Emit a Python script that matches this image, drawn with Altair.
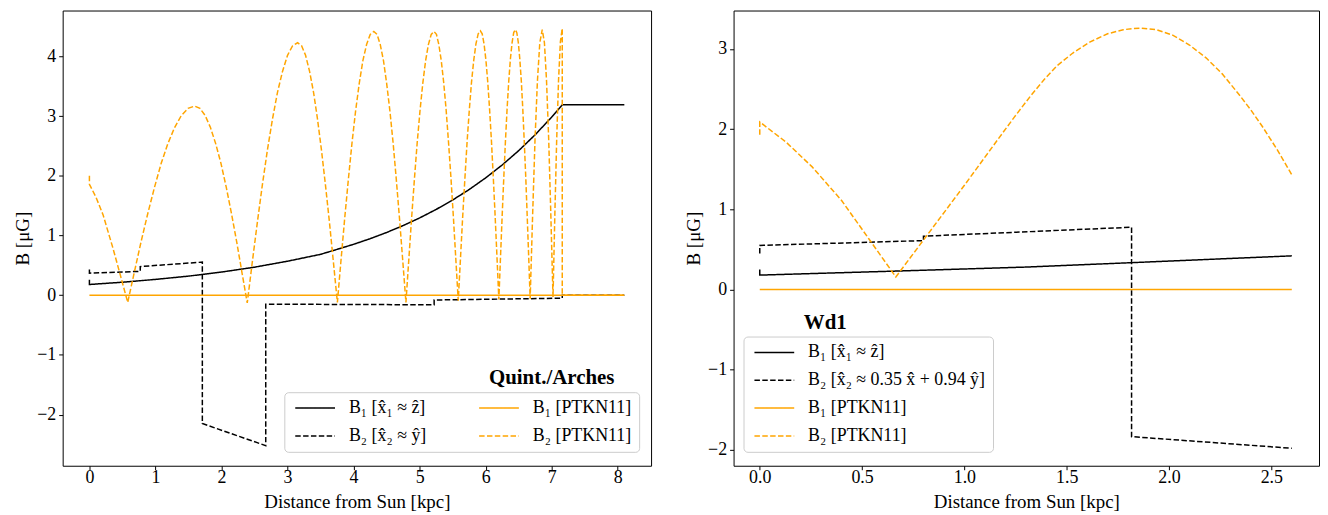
import altair as alt
import pandas as pd

FONT = "Liberation Serif"
BLACK = "#000000"
ORANGE = "#ffa500"

# ---------------- Left panel: Quint./Arches ----------------
L_B1_x = [0, 0, 0.5, 1.0, 1.5, 2.0, 2.5, 3.0, 3.5, 3.755, 4.0, 4.25, 4.5, 4.75, 5.0, 5.25,
          5.5, 5.75, 6.0, 6.25, 6.5, 6.75, 7.0, 7.16, 8.1]
L_B1_y = [0.26, 0.18, 0.218, 0.265, 0.32, 0.388, 0.47, 0.57, 0.685, 0.77, 0.853, 0.947, 1.051,
          1.167, 1.295, 1.437, 1.595, 1.771, 1.966, 2.182, 2.422, 2.689, 2.985, 3.19, 3.19]

L_B2_x = [0, 0, 0.77, 0.77, 1.71, 1.71, 2.67, 2.67, 5.22, 5.22, 7.16, 7.16, 8.1]
L_B2_y = [0.43, 0.37, 0.40, 0.48, 0.555, -2.15, -2.52, -0.15, -0.16, -0.08, -0.05, 0.0, 0.0]

L_P1_x = [0, 8.1]
L_P1_y = [0.0, 0.0]

L_P2_x = [0, 0, 0.1, 0.206, 0.356, 0.47, 0.58,
          0.681, 0.783, 0.884, 0.986, 1.087, 1.188, 1.290, 1.391, 1.493, 1.594,
          1.674, 1.753, 1.833, 1.912, 1.992, 2.072, 2.151, 2.231, 2.310, 2.39,
          2.466, 2.543, 2.619, 2.695, 2.772, 2.848, 2.924, 3.000, 3.077, 3.153,
          3.213, 3.273, 3.334, 3.394, 3.454, 3.514, 3.574, 3.635, 3.695, 3.755,
          3.810, 3.865, 3.921, 3.976, 4.031, 4.086, 4.141, 4.197, 4.252, 4.307,
          4.356, 4.404, 4.453, 4.501, 4.550, 4.599, 4.647, 4.696, 4.744, 4.793,
          4.836, 4.878, 4.921, 4.963, 5.006, 5.048, 5.091, 5.133, 5.176, 5.218,
          5.255, 5.291, 5.328, 5.365, 5.402, 5.438, 5.475, 5.512, 5.548, 5.585,
          5.619, 5.652, 5.686, 5.719, 5.753, 5.786, 5.820, 5.853, 5.887, 5.920,
          5.948, 5.976, 6.004, 6.032, 6.060, 6.088, 6.116, 6.144, 6.172, 6.200,
          6.225, 6.250, 6.275, 6.300, 6.325, 6.350, 6.375, 6.400, 6.425, 6.450,
          6.472, 6.495, 6.517, 6.540, 6.562, 6.584, 6.607, 6.629, 6.652, 6.674,
          6.711, 6.747, 6.784, 6.820, 6.857,
          6.890, 6.922, 6.955, 6.987, 7.02,
          7.048, 7.076, 7.104, 7.132, 7.16,
          7.16, 8.1]
L_P2_y = [2.00, 1.86, 1.64, 1.35, 0.79, 0.33, -0.12,
          0.39, 0.90, 1.37, 1.81, 2.21, 2.54, 2.81, 3.01, 3.13, 3.17,
          3.13, 3.01, 2.81, 2.54, 2.21, 1.81, 1.37, 0.89, 0.38, -0.13,
          0.55, 1.22, 1.85, 2.43, 2.95, 3.40, 3.75, 4.02, 4.18, 4.23,
          4.18, 4.02, 3.75, 3.40, 2.95, 2.43, 1.85, 1.22, 0.55, -0.12,
          0.59, 1.28, 1.94, 2.55, 3.09, 3.55, 3.93, 4.20, 4.37, 4.42,
          4.37, 4.20, 3.93, 3.55, 3.09, 2.55, 1.94, 1.28, 0.59, -0.12,
          0.59, 1.28, 1.94, 2.55, 3.09, 3.55, 3.93, 4.20, 4.37, 4.42,
          4.37, 4.20, 3.93, 3.56, 3.10, 2.56, 1.96, 1.30, 0.61, -0.09,
          0.62, 1.31, 1.96, 2.57, 3.11, 3.57, 3.94, 4.21, 4.38, 4.43,
          4.38, 4.21, 3.94, 3.57, 3.11, 2.58, 1.97, 1.32, 0.63, -0.07,
          0.64, 1.33, 1.98, 2.59, 3.13, 3.59, 3.96, 4.23, 4.40, 4.45,
          4.40, 4.23, 3.96, 3.59, 3.13, 2.59, 1.99, 1.33, 0.64, -0.06,
          1.33, 2.59, 3.59, 4.23, 4.45,
          4.23, 3.59, 2.60, 1.35, -0.03,
          1.36, 2.62, 3.61, 4.25, 4.47,
          0.0, 0.0]

# ---------------- Right panel: Wd1 ----------------
R_B1_x = [0, 0, 0.665, 1.3, 1.817, 2.6]
R_B1_y = [0.25, 0.18, 0.23, 0.28, 0.335, 0.42]

R_B2_x = [0, 0, 0.80, 0.80, 1.817, 1.817, 2.6]
R_B2_y = [0.45, 0.55, 0.61, 0.665, 0.777, -1.835, -1.98]

R_P1_x = [0, 2.6]
R_P1_y = [0.0, 0.0]

R_P2_x = [0, 0, 0.128, 0.256, 0.4, 0.531, 0.665, 0.798, 1.0, 1.163, 1.244, 1.325, 1.39, 1.452,
          1.53, 1.615, 1.70, 1.776, 1.82, 1.865, 1.94, 2.02, 2.10, 2.181, 2.26, 2.343, 2.40,
          2.457, 2.53, 2.60]
R_P2_y = [1.93, 2.09, 1.84, 1.53, 1.11, 0.64, 0.157, 0.61, 1.30, 1.87, 2.15, 2.42, 2.62, 2.79,
          2.95, 3.09, 3.19, 3.24, 3.255, 3.26, 3.24, 3.17, 3.05, 2.89, 2.69, 2.43, 2.24,
          2.03, 1.74, 1.43]

# legend labels
LAB_B1 = "B\u2081 [x\u0302\u2081 \u2248 z\u0302]"
LAB_L_B2 = "B\u2082 [x\u0302\u2082 \u2248 \u0177]"
LAB_R_B2 = "B\u2082 [x\u0302\u2082 \u2248 0.35 x\u0302 + 0.94 \u0177]"
LAB_P1 = "B\u2081 [PTKN11]"
LAB_P2 = "B\u2082 [PTKN11]"

# annotations
L_ANN = ["Quint./Arches"]
L_ANN_X = [7.0]
L_ANN_Y = [-1.395]
R_ANN = ["Wd1"]
R_ANN_X = [0.32]
R_ANN_Y = [-0.413]

SOLID = [1, 0]
DASH = [5.5, 2.4]


def frame(series):
    rows = []
    for name, xs, ys in series:
        for i, (a, b) in enumerate(zip(xs, ys)):
            rows.append({"x": a, "y": b, "series": name, "idx": i})
    return pd.DataFrame(rows)


def panel(series, legend_domain, colors, dashes, xdom, ydom, xvals, xfmt,
          yvals, width, height, legend, ann, ann_x, ann_y):
    df = frame(series)
    xs = alt.Scale(domain=xdom, nice=False, zero=False)
    ys = alt.Scale(domain=ydom, nice=False, zero=False)
    xax = alt.Axis(values=xvals, format=xfmt, title="Distance from Sun [kpc]")
    yax = alt.Axis(values=yvals, format="d", title="B [\u03bcG]")
    base = alt.Chart(df).mark_line(strokeWidth=1.5).encode(
        x=alt.X("x:Q", scale=xs, axis=xax),
        y=alt.Y("y:Q", scale=ys, axis=yax),
        color=alt.Color("series:N", scale=alt.Scale(domain=legend_domain, range=colors), legend=legend),
        strokeDash=alt.StrokeDash("series:N", scale=alt.Scale(domain=legend_domain, range=dashes), legend=legend),
        order=alt.Order("idx:Q"),
    )
    layers = [base.transform_filter(alt.datum.series == s) for s in legend_domain]
    adf = pd.DataFrame({"x": ann_x, "y": ann_y, "t": ann})
    txt = alt.Chart(adf).mark_text(font=FONT, fontSize=21, fontWeight="bold", align="center",
                                   baseline="middle", color="black").encode(
        x=alt.X("x:Q", scale=xs, axis=xax),
        y=alt.Y("y:Q", scale=ys, axis=yax),
        text="t:N",
    )
    return alt.layer(*layers, txt).properties(width=width, height=height)


def mk_legend(lx, ly, cols, colpad):
    return alt.Legend(orient="none", legendX=lx, legendY=ly, columns=cols, title=None,
                      symbolType="M-4,0H4", symbolSize=100, symbolStrokeWidth=1.5,
                      symbolOffset=15,
                      labelFont=FONT, labelFontSize=18, labelColor="black", labelLimit=600,
                      labelOffset=25, columnPadding=colpad, rowPadding=10, padding=7,
                      strokeColor="#cccccc", fillColor="rgba(255,255,255,0.8)", cornerRadius=4)


left = panel(
    series=[(LAB_B1, L_B1_x, L_B1_y), (LAB_L_B2, L_B2_x, L_B2_y),
            (LAB_P1, L_P1_x, L_P1_y), (LAB_P2, L_P2_x, L_P2_y)],
    legend_domain=[LAB_B1, LAB_L_B2, LAB_P1, LAB_P2],
    colors=[BLACK, BLACK, ORANGE, ORANGE],
    dashes=[SOLID, DASH, SOLID, DASH],
    xdom=[-0.405, 8.505], ydom=[-2.857, 4.77],
    xvals=[0, 1, 2, 3, 4, 5, 6, 7, 8], xfmt="d",
    yvals=[-2, -1, 0, 1, 2, 3, 4],
    width=592, height=458,
    legend=mk_legend(223, 384, 2, 49),
    ann=L_ANN, ann_x=L_ANN_X, ann_y=L_ANN_Y,
)

right = panel(
    series=[(LAB_B1, R_B1_x, R_B1_y), (LAB_R_B2, R_B2_x, R_B2_y),
            (LAB_P1, R_P1_x, R_P1_y), (LAB_P2, R_P2_x, R_P2_y)],
    legend_domain=[LAB_B1, LAB_R_B2, LAB_P1, LAB_P2],
    colors=[BLACK, BLACK, ORANGE, ORANGE],
    dashes=[SOLID, DASH, SOLID, DASH],
    xdom=[-0.128, 2.733], ydom=[-2.198, 3.48],
    xvals=[0, 0.5, 1.0, 1.5, 2.0, 2.5], xfmt=".1f",
    yvals=[-2, -1, 0, 1, 2, 3],
    width=589, height=458,
    legend=mk_legend(10, 328, 1, 32),
    ann=R_ANN, ann_x=R_ANN_X, ann_y=R_ANN_Y,
)

chart = alt.hconcat(left, right, spacing=32).resolve_scale(
    color="independent", strokeDash="independent", x="independent", y="independent"
).resolve_legend(color="independent", strokeDash="independent").properties(
    padding={"left": 5, "top": 0, "right": 0, "bottom": 0}
).configure_view(stroke="black", strokeWidth=1).configure_axis(
    grid=False, domain=False, labelFont=FONT, titleFont=FONT, labelFontSize=18,
    titleFontSize=19, titleFontWeight="normal", tickColor="black", labelColor="black",
    titleColor="black", tickSize=4, labelPadding=3,
).configure_axisX(labelPadding=-1, titlePadding=6)

chart.save("out.html", embed_options={"renderer": "svg", "actions": False})
